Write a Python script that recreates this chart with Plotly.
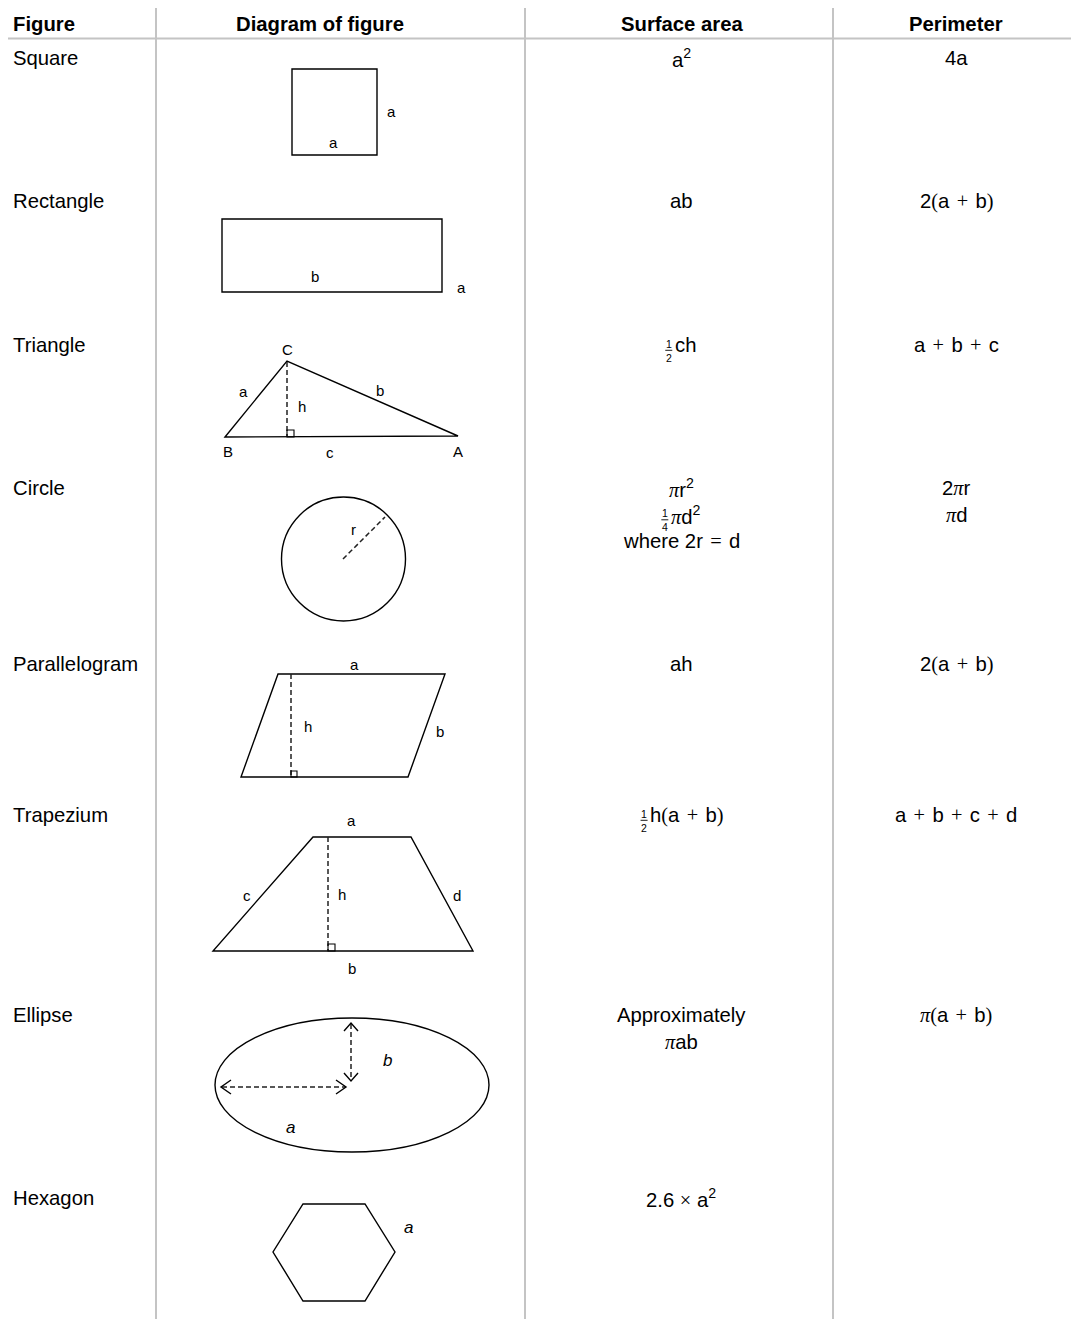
import re
import plotly.graph_objects as go

W, H = 1079, 1319
PAGE_MARGIN = 8  # default body margin of the html page

# ---------------- data ----------------
headers = ["Figure", "Diagram of figure", "Surface area", "Perimeter"]
figures = ["Square", "Rectangle", "Triangle", "Circle", "Parallelogram",
           "Trapezium", "Ellipse", "Hexagon"]
area_lines = [
    ["a<sup>2</sup>"],
    ["ab"],
    ["{1/2}ch"],
    ["πr<sup>2</sup>", "{1/4}πd<sup>2</sup>", "where 2r = d"],
    ["ah"],
    ["{1/2}h(a + b)"],
    ["Approximately", "πab"],
    ["2.6 × a<sup>2</sup>"],
]
perimeter_lines = [
    ["4a"],
    ["2(a + b)"],
    ["a + b + c"],
    ["2πr", "πd"],
    ["2(a + b)"],
    ["a + b + c + d"],
    ["π(a + b)"],
    [],
]

# diagram geometry (pixel space of the page)
polygons = {
    "square": [(292, 69), (377, 69), (377, 155), (292, 155)],
    "rectangle": [(222, 219), (442, 219), (442, 292), (222, 292)],
    "triangle": [(225, 437), (287, 361), (458, 436)],
    "parallelogram": [(278, 674), (445, 674), (408, 777), (241, 777)],
    "trapezium": [(313, 837), (411, 837), (473, 951), (213, 951)],
    "hexagon": [(303, 1204), (365, 1204), (395, 1252), (365, 1301), (303, 1301), (273, 1252)],
}
circle = dict(cx=343.5, cy=559, r=62)
ellipse = dict(x0=215, x1=489, y0=1018, y1=1152)
dashed = [
    ((287, 362), (287, 436)),
    ((343, 559), (385, 517)),
    ((291, 674), (291, 777)),
    ((328, 837), (328, 951)),
    ((222, 1087), (346, 1087)),
    ((351, 1024), (351, 1081)),
]
arrow_heads = [
    [(231, 1080), (221, 1087), (231, 1094)],
    [(336, 1080), (346, 1087), (336, 1094)],
    [(344, 1031), (351, 1023), (358, 1031)],
    [(344, 1073), (351, 1081), (358, 1073)],
]
right_angles = [(287, 430, 294, 437), (291, 771, 297, 777), (328, 944, 335, 951)]
diagram_labels = [
    ("a", 391, 111, False), ("a", 333, 142, False),
    ("b", 315, 276, False), ("a", 461, 287, False),
    ("C", 287, 349, False), ("a", 243, 391, False), ("b", 380, 390, False),
    ("h", 302, 406, False), ("B", 228, 451, False), ("c", 330, 452, False),
    ("A", 458, 451, False),
    ("r", 353, 529, False),
    ("a", 354, 664, False), ("h", 308, 726, False), ("b", 440, 731, False),
    ("a", 351, 820, False), ("c", 247, 895, False), ("h", 342, 894, False),
    ("d", 457, 895, False), ("b", 352, 968, False),
    ("b", 387, 1060, True), ("a", 290, 1127, True),
    ("a", 408, 1227, True),
]

row_text_y = [58, 201, 345, 488, 664, 815, 1015, 1198]
line_gap = 26.5
grid_x = [7, 156, 525, 833, 1077.5]
grid_y = [4, 38.5]
header_x = [13, 320, 682, 956]
name_x = 13
header_y = 24
area_cx = 681
perim_cx = 956

FONT = "Liberation Sans, Arial, sans-serif"
SERIF = "Liberation Serif"
TXT = 20.3
LBL = 15
GRID = "#c4c4c4"

# ---------------- helpers ----------------
def sp(ch, italic=False):
    inner = "<i>%s</i>" % ch if italic else ch
    return "<span style=\"font-family:%s\">%s</span>" % (SERIF, inner)

HS = "\u200a"

def mathify(s):
    s = s.replace(" + ", " " + HS + sp("+") + HS + " ")
    s = s.replace(" = ", " " + HS + sp("=") + HS + " ")
    s = s.replace(" × ", " " + sp("×") + " ")
    s = s.replace("(", sp("("))
    s = s.replace(")", sp(")"))
    s = s.replace("π", sp("π", True))
    return s

CW = {"i": .222, "l": .222, "r": .333, "t": .278, "m": .833, " ": .278,
      "+": .6, "(": .333, ")": .333, "π": .5, "=": .6, "×": .564,
      "c": .5, "x": .5, "y": .5}

def est_width(s, size):
    w = 0.0
    scale = 1.0
    for tok in re.split(r"(<[^>]+>)", s):
        if tok.startswith("<"):
            if tok == "<sup>":
                scale = 0.7
            elif tok == "</sup>":
                scale = 1.0
            continue
        for ch in tok:
            w += CW.get(ch, 0.556) * size * scale
    return w

annotations = []
shapes = []

def add_text(text, x, y, size=TXT, xanchor="center", bold=False):
    if bold:
        text = "<b>%s</b>" % text
    annotations.append(dict(text=text, x=x, y=y, xref="x", yref="y",
                            xanchor=xanchor, yanchor="middle", showarrow=False,
                            borderpad=0, borderwidth=0,
                            font=dict(family=FONT, size=size, color="black")))

def add_formula(line, cx, y):
    m = re.match(r"\{(\d)/(\d)\}(.*)", line)
    if not m:
        add_text(mathify(line), cx, y)
        return
    num, den, rest = m.groups()
    w = est_width(rest, TXT)
    total = 8 + 3 + w
    start = cx - total / 2
    fx = start + 4
    add_text("%s<br>%s" % (num, den), fx, y + 5.8, size=10.5)
    shapes.append(dict(type="line", xref="x", yref="y", x0=fx - 3.5, x1=fx + 3.5,
                       y0=y + 5.3, y1=y + 5.3, line=dict(color="black", width=0.9)))
    add_text(mathify(rest), start + 10, y, xanchor="left")

# ---------------- grid ----------------
for gx in grid_x:
    shapes.append(dict(type="line", xref="x", yref="y", x0=gx, x1=gx, y0=grid_y[0] - 1, y1=H,
                       line=dict(color=GRID, width=2)))
for gy in grid_y:
    shapes.append(dict(type="line", xref="x", yref="y", x0=grid_x[0], x1=grid_x[-1], y0=gy, y1=gy,
                       line=dict(color=GRID, width=2)))

# ---------------- headers ----------------
for i, (h, hx) in enumerate(zip(headers, header_x)):
    add_text(h, hx, header_y, xanchor="left" if i == 0 else "center", bold=True)

# ---------------- rows ----------------
for name, y, al, pl in zip(figures, row_text_y, area_lines, perimeter_lines):
    add_text(name, name_x, y, xanchor="left")
    for k, line in enumerate(al):
        add_formula(line, area_cx, y + k * line_gap)
    for k, line in enumerate(pl):
        add_formula(line, perim_cx, y + k * line_gap)

# ---------------- diagrams ----------------
LW = 1.4
for pts in polygons.values():
    path = "M " + " L ".join("%g,%g" % p for p in pts) + " Z"
    shapes.append(dict(type="path", xref="x", yref="y", path=path,
                       line=dict(color="black", width=LW)))
shapes.append(dict(type="circle", xref="x", yref="y",
                   x0=circle["cx"] - circle["r"], x1=circle["cx"] + circle["r"],
                   y0=circle["cy"] - circle["r"], y1=circle["cy"] + circle["r"],
                   line=dict(color="black", width=LW)))
shapes.append(dict(type="circle", xref="x", yref="y", **ellipse,
                   line=dict(color="black", width=LW)))
for (p0, p1) in dashed:
    shapes.append(dict(type="line", xref="x", yref="y", x0=p0[0], y0=p0[1], x1=p1[0], y1=p1[1],
                       line=dict(color="#222222", width=1.5, dash="5px,3px")))
for pts in arrow_heads:
    path = "M " + " L ".join("%g,%g" % p for p in pts)
    shapes.append(dict(type="path", xref="x", yref="y", path=path,
                       line=dict(color="black", width=1.4)))
for (x0, y0, x1, y1) in right_angles:
    shapes.append(dict(type="rect", xref="x", yref="y", x0=x0, y0=y0, x1=x1, y1=y1,
                       line=dict(color="black", width=1.1)))
for (t, x, y, it) in diagram_labels:
    add_text("<i>%s</i>" % t if it else t, x, y, size=LBL + (2 if it else 0))

fig = go.Figure()
fig.update_layout(
    width=W - PAGE_MARGIN, height=H - PAGE_MARGIN,
    margin=dict(l=0, r=0, t=0, b=0, pad=0),
    paper_bgcolor="white", plot_bgcolor="white",
    xaxis=dict(range=[PAGE_MARGIN, W], visible=False, fixedrange=True),
    yaxis=dict(range=[H, PAGE_MARGIN], visible=False, fixedrange=True),
    shapes=shapes, annotations=annotations, showlegend=False,
)
fig.write_html("out.html")
